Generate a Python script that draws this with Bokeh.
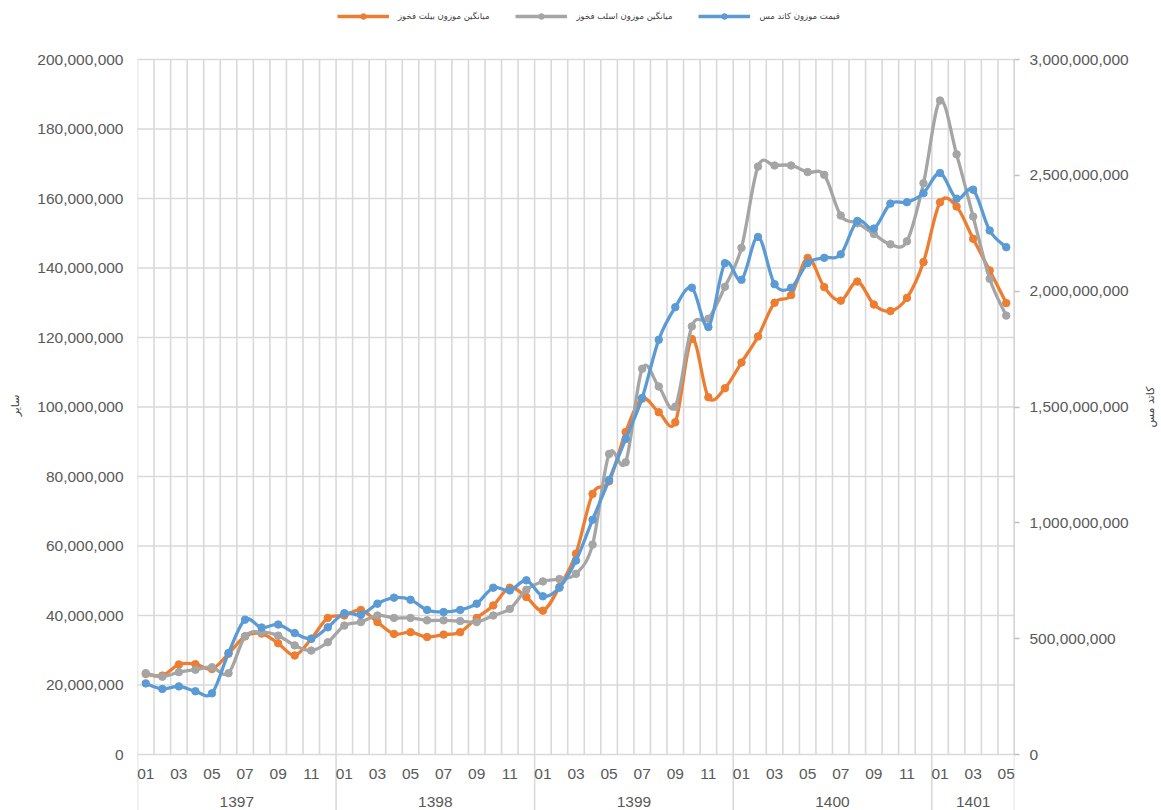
import numpy as np
from bokeh.plotting import figure
from bokeh.layouts import row
from bokeh.models import (Range1d, LinearAxis, FixedTicker, ColumnDataSource,
                          Legend, LegendItem, NumeralTickFormatter)
from bokeh.core.properties import value
from bokeh.embed import file_html
from bokeh.resources import INLINE

# ---------------- data ----------------
years = ["1397", "1398", "1399", "1400", "1401"]
months_per_year = [12, 12, 12, 12, 5]
month_labels = ["01", "02", "03", "04", "05", "06", "07", "08", "09", "10", "11", "12"] * 4 + \
               ["01", "02", "03", "04", "05"]

# left axis (rial, millions)
billet = [23.2, 22.7, 25.9, 26.0, 24.6, 29.0, 34.0, 34.8, 32.0, 28.5, 33.3, 39.3,
          40.0, 41.6, 38.1, 34.7, 35.2, 33.8, 34.5, 35.2, 39.3, 42.9, 48.0, 45.3,
          41.4, 48.2, 57.8, 75.0, 78.6, 92.8, 102.4, 98.5, 95.6, 119.6, 102.8, 105.4,
          112.8, 120.3, 130.0, 132.2, 142.9, 134.5, 130.6, 136.1, 129.5, 127.6, 131.4, 141.7,
          158.9, 157.7, 148.4, 139.3, 129.9]
slab = [23.4, 22.4, 23.7, 24.4, 25.1, 23.4, 34.0, 35.2, 34.2, 31.4, 29.9, 32.3,
        37.1, 38.1, 40.0, 39.3, 39.3, 38.6, 38.6, 38.4, 38.1, 40.0, 41.9, 47.4,
        49.8, 50.5, 52.0, 60.4, 86.5, 84.1, 111.0, 105.9, 100.1, 123.2, 125.4, 134.6,
        145.8, 169.2, 169.5, 169.5, 167.6, 166.8, 155.1, 152.9, 149.8, 146.8, 147.7, 164.4,
        188.2, 172.7, 154.8, 136.9, 126.3]
# right axis (rial, millions)
cathode = [307, 283, 294, 273, 264, 438, 582, 548, 561, 524, 500, 549,
           610, 603, 651, 677, 668, 624, 615, 624, 651, 720, 708, 752,
           683, 720, 837, 1013, 1185, 1362, 1539, 1790, 1931, 2015, 1845, 2121,
           2049, 2234, 2030, 2015, 2121, 2144, 2159, 2303, 2270, 2378, 2384, 2423,
           2510, 2399, 2438, 2262, 2190]

left_ticks = list(range(0, 200_000_001, 20_000_000))
right_ticks = list(range(0, 3_000_000_001, 500_000_000))

name_billet = "میانگین موزون بیلت فخوز"
name_slab = "میانگین موزون اسلب فخوز"
name_cathode = "قیمت موزون کاتد مس"
left_title = "سایر"
right_title = "کاتد مس"

# ---------------- styles ----------------
C_OR = "#ED7D31"
C_GR = "#A5A5A5"
C_BL = "#5B9BD5"
GRID = "#d9d9d9"
TXT = "#595959"
FONT = "Liberation Sans"
AFONT = "DejaVu Sans"

n = len(month_labels)
xs = np.arange(n)
b_vals = np.array(billet) * 1e6
s_vals = np.array(slab) * 1e6
c_vals = np.array(cathode) * 1e6

FRAME_W, FRAME_H = 877, 810
BORDER_L, BORDER_R = 137, 126
TITLE_W = 21
L_END = left_ticks[-1]
y0_px, top_px = 754, 59           # canvas pixel rows of value 0 and of the top tick
scale = (y0_px - top_px) / L_END
y_start = -(FRAME_H - y0_px) / scale
y_end = L_END + top_px / scale
ratio = right_ticks[-1] / left_ticks[-1]

p = figure(frame_width=FRAME_W, frame_height=FRAME_H,
           x_range=Range1d(-0.5, n - 0.5),
           y_range=Range1d(y_start, y_end),
           output_backend="svg", toolbar_location=None,
           min_border_left=BORDER_L, min_border_right=BORDER_R,
           min_border_top=0, min_border_bottom=0)
p.extra_y_ranges = {"right": Range1d(y_start * ratio, y_end * ratio)}
p.xaxis.visible = False
p.grid.visible = False
p.outline_line_color = None
p.background_fill_color = "white"
p.border_fill_color = "white"

# left axis
ya = p.yaxis[0]
ya.ticker = FixedTicker(ticks=left_ticks)
ya.formatter = NumeralTickFormatter(format="0,0")
ya.axis_line_color = None
ya.major_tick_line_color = None
ya.major_tick_out = 0
ya.major_tick_in = 0
ya.minor_tick_line_color = None
ya.major_label_standoff = 14
ya.major_label_text_font = FONT
ya.major_label_text_font_size = "15.5px"
ya.major_label_text_color = TXT
ya.axis_label = left_title
ya.axis_label_text_font = AFONT
ya.axis_label_text_font_size = "11px"
ya.axis_label_text_font_style = "normal"
ya.axis_label_text_color = "#404040"
ya.axis_label_standoff = 12

# right axis
ra = LinearAxis(y_range_name="right", ticker=FixedTicker(ticks=right_ticks),
                formatter=NumeralTickFormatter(format="0,0"))
ra.axis_line_color = None
ra.major_tick_line_color = "#bfbfbf"
ra.major_tick_line_width = 1.5
ra.major_tick_out = 5
ra.major_tick_in = 0
ra.minor_tick_line_color = None
ra.major_label_standoff = 10
ra.major_label_text_font = FONT
ra.major_label_text_font_size = "15.5px"
ra.major_label_text_color = TXT
p.add_layout(ra, "right")

# gridlines (category boundaries and value ticks)
bounds = np.arange(-0.5, n, 1.0)
p.segment(x0=bounds, x1=bounds, y0=[0] * len(bounds), y1=[L_END] * len(bounds),
          line_color=GRID, line_width=1.6)
p.segment(x0=[-0.5] * len(left_ticks), x1=[n - 0.5] * len(left_ticks),
          y0=left_ticks, y1=left_ticks, line_color=GRID, line_width=1.6)
# right axis line
p.segment(x0=[n - 0.5], x1=[n - 0.5], y0=[0], y1=[right_ticks[-1]],
          y_range_name="right", line_color="#bfbfbf", line_width=1.6)

# year separators
cum = np.concatenate([[0], np.cumsum(months_per_year)])
sep_x = cum - 0.5
p.segment(x0=sep_x, x1=sep_x, y0=[y_start] * len(sep_x), y1=[0] * len(sep_x),
          line_color=GRID, line_width=1.6)

# month labels (every other) and year labels
mi = [i for i in range(n) if i % 2 == 0]
p.text(x=mi, y=[0] * len(mi), text=[month_labels[i] for i in mi],
       text_font=value(FONT), text_font_size="15.5px", text_color=TXT,
       text_align="center", text_baseline="middle", y_offset=19)
ycent = (cum[:-1] + cum[1:]) / 2 - 0.5
p.text(x=ycent, y=[0] * len(years), text=years,
       text_font=value(FONT), text_font_size="15.5px", text_color=TXT,
       text_align="center", text_baseline="middle", y_offset=47)


def bez(x, y):
    m = len(y)
    d = dict(x0=[], y0=[], x1=[], y1=[], cx0=[], cy0=[], cx1=[], cy1=[])
    for k in range(m - 1):
        a = max(k - 1, 0)
        b = min(k + 2, m - 1)
        d["x0"].append(x[k]); d["y0"].append(y[k])
        d["x1"].append(x[k + 1]); d["y1"].append(y[k + 1])
        d["cx0"].append(x[k] + (x[k + 1] - x[a]) / 6)
        d["cy0"].append(y[k] + (y[k + 1] - y[a]) / 6)
        d["cx1"].append(x[k + 1] - (x[b] - x[k]) / 6)
        d["cy1"].append(y[k + 1] - (y[b] - y[k]) / 6)
    return ColumnDataSource(d)


items = []
for vals, col, name, rng in [(b_vals, C_OR, name_billet, "default"),
                             (s_vals, C_GR, name_slab, "default"),
                             (c_vals, C_BL, name_cathode, "right")]:
    r1 = p.bezier(x0="x0", y0="y0", x1="x1", y1="y1", cx0="cx0", cy0="cy0",
                  cx1="cx1", cy1="cy1", source=bez(xs.astype(float), vals),
                  line_color=col, line_width=3.3, y_range_name=rng)
    r2 = p.scatter(x=xs, y=vals, size=7.5, fill_color=col, line_color=col,
                   y_range_name=rng)
    items.append(LegendItem(label=name, renderers=[r1, r2]))

legend = Legend(items=items, orientation="horizontal", location=(200, FRAME_H - 23),
                label_text_font=AFONT, label_text_font_size="8.5px",
                label_text_color="#404040", glyph_width=52, glyph_height=14,
                label_height=14, label_standoff=9, spacing=26, padding=0,
                margin=0, border_line_color=None, background_fill_alpha=0)
p.add_layout(legend)

# narrow strip on the right carrying the right-axis title (reads bottom-to-top)
t = figure(width=TITLE_W, height=FRAME_H, x_range=Range1d(0, TITLE_W),
           y_range=Range1d(y_start, y_end), output_backend="svg",
           toolbar_location=None, min_border=0)
t.axis.visible = False
t.grid.visible = False
t.outline_line_color = None
t.text(x=[TITLE_W / 2 - 0.5], y=[L_END / 2], text=[right_title], angle=np.pi / 2,
       text_font=value(AFONT), text_font_size="11px", text_color="#404040",
       text_align="center", text_baseline="middle")

page = row(p, t, spacing=0)

open("out.html", "w").write(file_html(page, INLINE))
